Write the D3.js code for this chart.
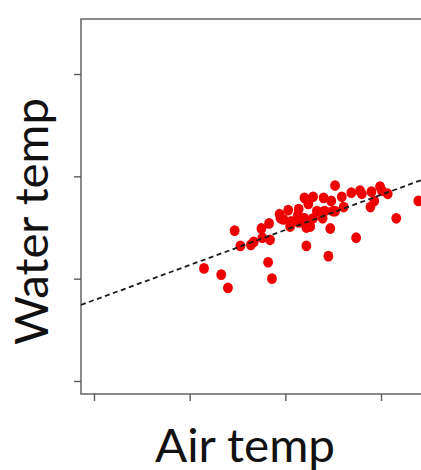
<!DOCTYPE html>
<html>
<head>
<meta charset="utf-8">
<script src="https://cdn.jsdelivr.net/npm/d3@7"></script>
<style>
  html, body { margin: 0; padding: 0; background: #fff; }
  svg { display: block; }
</style>
</head>
<body>
<svg id="chart" width="421" height="470"></svg>
<script>
// Tick positions on each axis (drawn without labels)
const xTicks = [0, 10, 20, 30];
const yTicks = [0, 10, 20, 30];

// Observations: air temperature and water temperature
const airTemp = [
  11.5, 13.3, 14.0, 14.7, 15.3, 16.4, 16.7, 17.5, 18.3, 17.6,
  18.4, 18.2, 18.6, 19.4, 20.3, 19.8, 20.5, 21.3, 21.4, 22.0,
  22.4, 22.9, 24.0, 24.8, 25.2, 25.9, 26.9, 27.8, 28.0, 29.0,
  29.9, 30.1, 30.7, 29.3, 28.9, 31.6, 33.9, 25.2, 24.1, 23.3,
  21.9, 22.9, 23.9, 22.6, 24.7, 27.4, 22.2, 24.5, 21.4, 20.6,
  19.5, 22.2, 22.0, 26.1, 25.0
];
const waterTemp = [
  11.0, 10.4, 9.1, 14.7, 13.2, 13.3, 13.6, 14.9, 15.4, 14.0,
  13.8, 11.6, 10.0, 16.3, 16.7, 15.8, 15.1, 16.2, 16.8, 17.9,
  17.3, 18.0, 17.9, 17.6, 19.1, 18.0, 18.4, 18.6, 18.3, 18.5,
  19.0, 18.6, 18.3, 17.6, 17.0, 15.9, 17.6, 16.6, 16.6, 16.6,
  15.9, 15.9, 15.9, 15.1, 14.9, 14.0, 13.2, 12.2, 15.5, 15.6,
  15.9, 15.0, 15.9, 17.0, 16.6
];

// Fitted regression line (intercept, slope)
const fitIntercept = 7.9;
const fitSlope = 0.343;

const svg = d3.select("#chart");

const x = d3.scaleLinear().domain([0, 30]).range([94, 381]);
const y = d3.scaleLinear().domain([0, 30]).range([381, 74]);

const frame = { left: 81, top: 19, bottom: 394, right: 470 };
const axisColor = "#5a5a5a";

// Plot frame
svg.append("rect")
  .attr("x", frame.left).attr("y", frame.top)
  .attr("width", frame.right - frame.left).attr("height", frame.bottom - frame.top)
  .attr("fill", "none")
  .attr("stroke", axisColor)
  .attr("stroke-width", 1.4);

// Left ticks
svg.append("g")
  .attr("transform", `translate(${frame.left},0)`)
  .call(d3.axisLeft(y).tickValues(yTicks).tickSize(7).tickFormat(""))
  .call(g => g.select(".domain").remove())
  .call(g => g.selectAll("line").attr("stroke", axisColor).attr("stroke-width", 1.4));

// Bottom ticks
svg.append("g")
  .attr("transform", `translate(0,${frame.bottom})`)
  .call(d3.axisBottom(x).tickValues(xTicks).tickSize(7).tickFormat(""))
  .call(g => g.select(".domain").remove())
  .call(g => g.selectAll("line").attr("stroke", axisColor).attr("stroke-width", 1.4));

svg.append("clipPath").attr("id", "plot-clip")
  .append("rect")
  .attr("x", frame.left).attr("y", frame.top)
  .attr("width", frame.right - frame.left).attr("height", frame.bottom - frame.top);

const plot = svg.append("g").attr("clip-path", "url(#plot-clip)");

// Points
const pts = airTemp.map((a, i) => ({ a, w: waterTemp[i] }));
plot.selectAll("ellipse.pt")
  .data(pts)
  .join("ellipse")
  .attr("class", "pt")
  .attr("cx", d => x(d.a))
  .attr("cy", d => y(d.w))
  .attr("rx", 4.9)
  .attr("ry", 5.4)
  .attr("fill", "#ee0000");

// Regression line across the plot
const xMin = x.invert(frame.left), xMax = x.invert(frame.right);
plot.append("line")
  .attr("x1", x(xMin)).attr("y1", y(fitIntercept + fitSlope * xMin))
  .attr("x2", x(xMax)).attr("y2", y(fitIntercept + fitSlope * xMax))
  .attr("stroke", "#1a1a1a")
  .attr("stroke-width", 1.8)
  .attr("stroke-dasharray", "5,3.5");

// Axis titles
svg.append("text")
  .attr("x", 245).attr("y", 462)
  .attr("text-anchor", "middle")
  .attr("font-family", "Lato, 'Open Sans', sans-serif")
  .attr("font-size", 47)
  .attr("textLength", 180)
  .attr("lengthAdjust", "spacingAndGlyphs")
  .attr("fill", "#111")
  .text("Air temp");

svg.append("text")
  .attr("transform", "translate(48,221.5) rotate(-90)")
  .attr("text-anchor", "middle")
  .attr("font-family", "Lato, 'Open Sans', sans-serif")
  .attr("font-size", 47)
  .attr("textLength", 247)
  .attr("lengthAdjust", "spacingAndGlyphs")
  .attr("fill", "#111")
  .text("Water temp");
</script>
</body>
</html>
